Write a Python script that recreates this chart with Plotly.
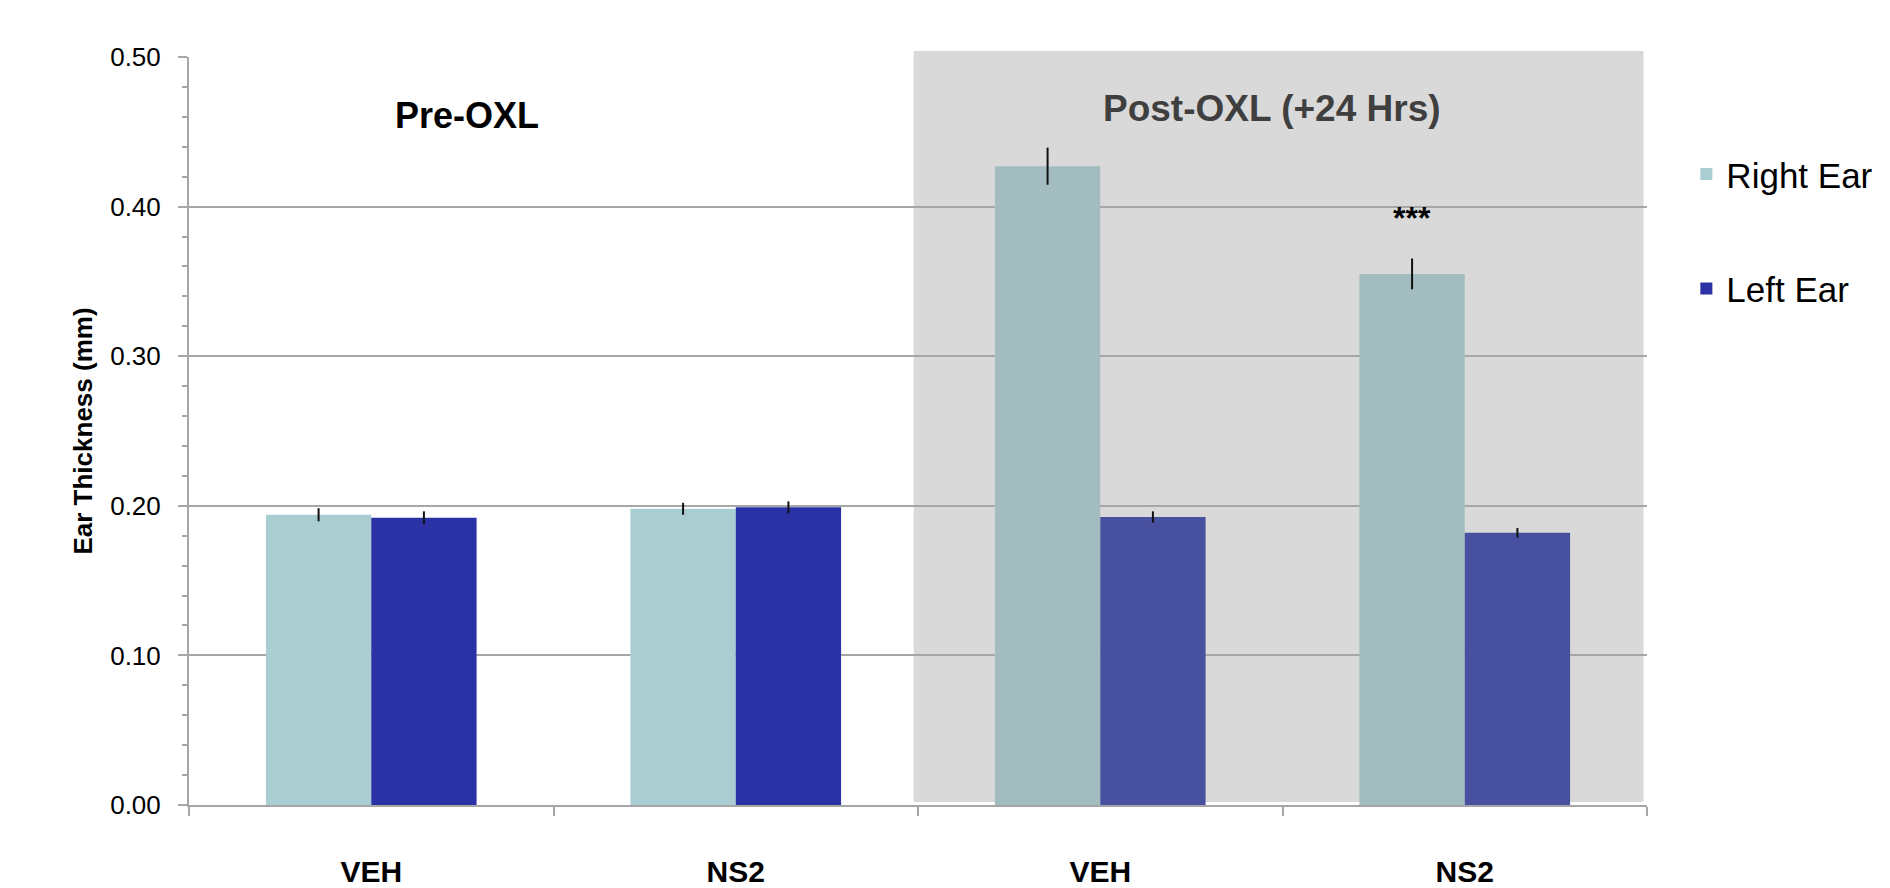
import plotly.graph_objects as go

# ---- data ----
categories = ["VEH", "NS2", "VEH", "NS2"]
phases = ["Pre-OXL", "Pre-OXL", "Post-OXL (+24 Hrs)", "Post-OXL (+24 Hrs)"]
right_ear = [0.194, 0.198, 0.427, 0.355]
right_err = [0.0044, 0.004, 0.0124, 0.0103]
left_ear = [0.192, 0.199, 0.1925, 0.182]
left_err = [0.0043, 0.004, 0.0038, 0.0032]
y_ticks = [0.0, 0.1, 0.2, 0.3, 0.4, 0.5]
y_ticktext = ["0.00", "0.10", "0.20", "0.30", "0.40", "0.50"]
significance = ["", "", "", "***"]

# ---- style ----
right_colors = ["#AACDD1", "#AACDD1", "#A3BCBF", "#A3BCBF"]
left_colors = ["#2A32A6", "#2A32A6", "#4850A0", "#4850A0"]
BARGAP = 0.422
FONT = "Liberation Sans, Arial, sans-serif"

xpos = list(range(len(categories)))

fig = go.Figure()
fig.add_trace(go.Bar(
    x=xpos, y=right_ear, name="Right Ear", legendgroup="r",
    marker=dict(color=right_colors, line=dict(width=0)),
    error_y=dict(type="data", array=right_err, visible=True, width=0,
                 thickness=2, color="#111111"),
))
fig.add_trace(go.Bar(
    x=xpos, y=left_ear, name="Left Ear", legendgroup="l",
    marker=dict(color=left_colors, line=dict(width=0)),
    error_y=dict(type="data", array=left_err, visible=True, width=0,
                 thickness=2, color="#111111"),
))

half_bar = (1 - BARGAP) / 4.0

# shaded Post-OXL region
fig.add_shape(type="rect", xref="paper", yref="paper",
              x0=0.497, x1=0.9976, y0=0.004, y1=1.008,
              fillcolor="#D9D9D9", line=dict(width=0), layer="below")

# phase titles
fig.add_annotation(text="<b>Pre-OXL</b>", xref="paper", yref="paper",
                   x=0.191, y=0.922, xanchor="center", yanchor="middle",
                   showarrow=False,
                   font=dict(family=FONT, size=36, color="#000000"))
fig.add_annotation(text="<b>Post-OXL (+24 Hrs)</b>", xref="paper", yref="paper",
                   x=0.743, y=0.931, xanchor="center", yanchor="middle",
                   showarrow=False,
                   font=dict(family=FONT, size=37, color="#3F3F3F"))

# significance marks
for i, s in enumerate(significance):
    if s:
        fig.add_annotation(text="<b>" + s + "</b>", x=xpos[i] - half_bar,
                           y=right_ear[i] + right_err[i] + 0.027,
                           xref="x", yref="y", xanchor="center",
                           yanchor="middle", showarrow=False,
                           font=dict(family=FONT, size=32, color="#000000"))

fig.update_layout(
    width=1890, height=888,
    margin=dict(l=189, r=241, t=57, b=83),
    paper_bgcolor="white", plot_bgcolor="rgba(0,0,0,0)",
    barmode="group", bargap=BARGAP, bargroupgap=0,
    font=dict(family=FONT, color="#000000"),
    showlegend=True,
    legend=dict(x=1.027, xanchor="left", y=0.767, yanchor="middle",
                font=dict(family=FONT, size=35, color="#000000"),
                tracegroupgap=66, bgcolor="rgba(0,0,0,0)",
                traceorder="grouped"),
)

fig.update_xaxes(
    range=[-0.5, len(categories) - 0.5], automargin=False,
    tickvals=xpos, ticktext=["<b>" + c + "</b>" for c in categories],
    tickfont=dict(family=FONT, size=30, color="#000000"),
    ticks="", ticklabelstandoff=39,
    showgrid=False, zeroline=False,
    showline=True, linecolor="#A6A6A6", linewidth=2,
    minor=dict(tickvals=[p - 0.5 for p in xpos] + [len(categories) - 0.5],
               ticks="outside", ticklen=9, tickcolor="#A6A6A6", tickwidth=2,
               showgrid=False),
)

fig.update_yaxes(
    range=[0, 0.5], tickvals=y_ticks, ticktext=y_ticktext, automargin=False,
    tickfont=dict(family=FONT, size=26, color="#000000"),
    ticks="outside", ticklen=9, tickcolor="#A6A6A6", tickwidth=2,
    ticklabelstandoff=12,
    showgrid=True, gridcolor="#A6A6A6", gridwidth=2,
    zeroline=False, showline=True, linecolor="#A6A6A6", linewidth=2,
    minor=dict(dtick=0.02, ticks="outside", ticklen=5, tickcolor="#A6A6A6",
               tickwidth=2, showgrid=False),
    title=dict(text="<b>Ear Thickness (mm)</b>", standoff=10,
               font=dict(family=FONT, size=26, color="#000000")),
)

fig.write_html("out.html", config={"displayModeBar": False},
               post_script="document.body.style.margin='0';")
